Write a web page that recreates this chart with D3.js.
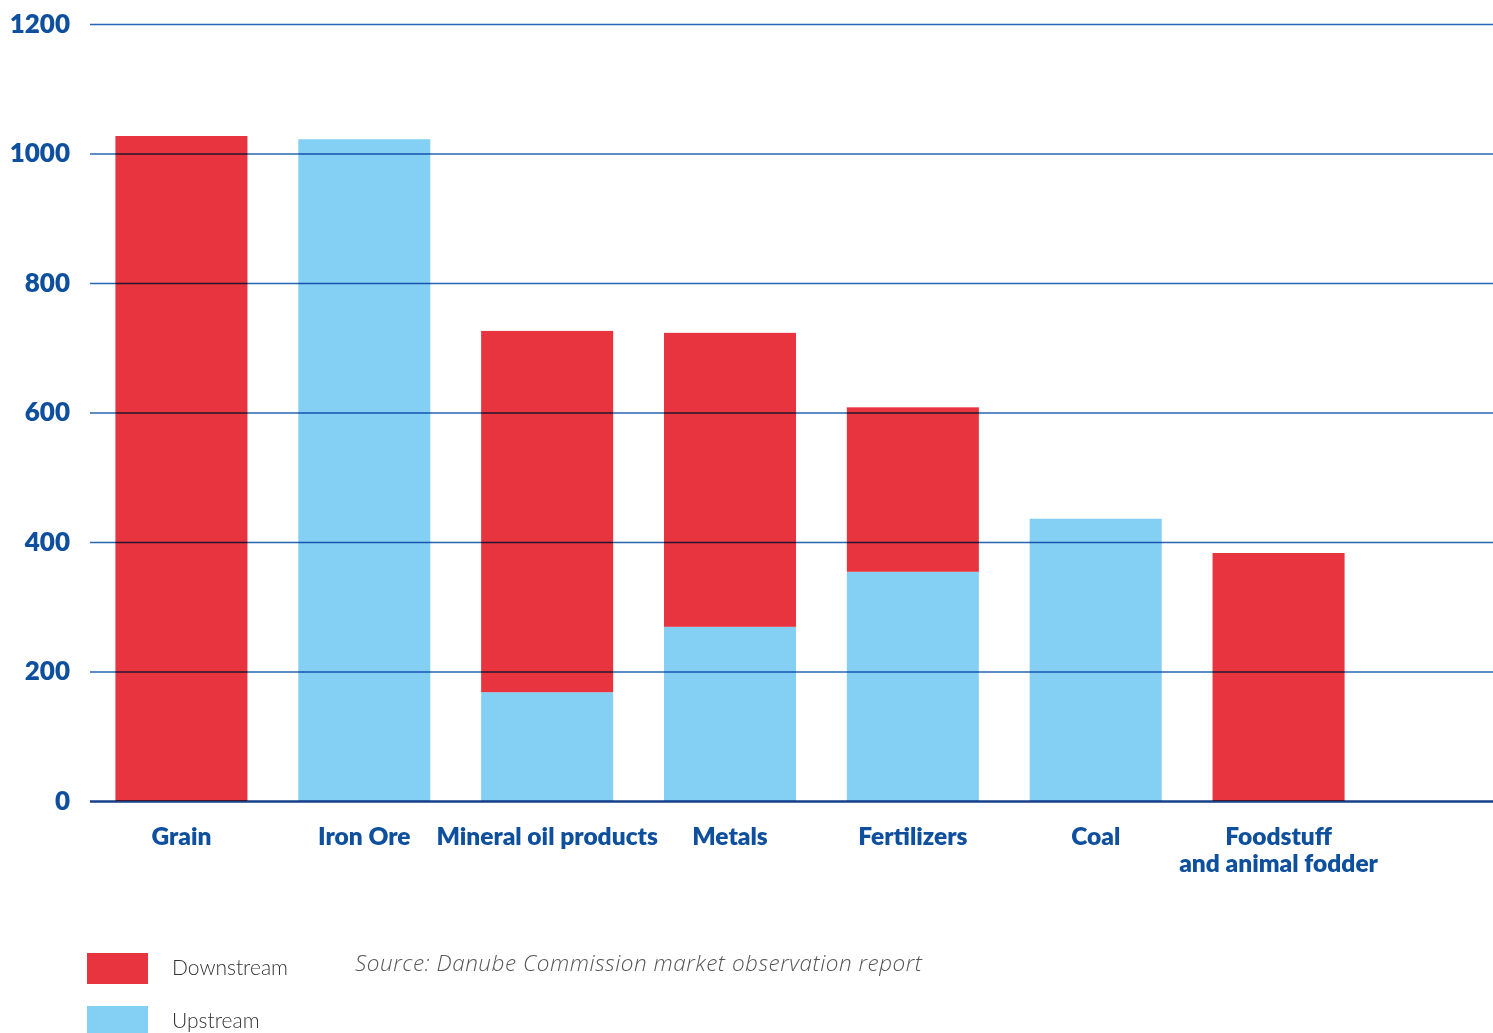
<!DOCTYPE html>
<html>
<head>
<meta charset="utf-8">
<script src="https://cdn.jsdelivr.net/npm/d3@7"></script>
<style>
  html, body { margin: 0; padding: 0; background: #fff; }
  svg { display: block; }
</style>
</head>
<body>
<svg id="chart" width="1493" height="1033"></svg>
<script>
const categories = ["Grain", "Iron Ore", "Mineral oil products", "Metals", "Fertilizers", "Coal", "Foodstuff\nand animal fodder"];
const upstream   = [0, 1022, 168, 269, 354, 436, 0];
const downstream = [1027, 0, 558, 454, 254, 0, 383];
const yTicks = [0, 200, 400, 600, 800, 1000, 1200];
const seriesNames = ["Downstream", "Upstream"];
const colors = { Downstream: "#e8343f", Upstream: "#84d0f5" };
const sourceText = "Source: Danube Commission market observation report";

const svg = d3.select("#chart");
const width = 1493;

const x = d3.scaleBand()
  .domain(categories)
  .range([90, 1370])
  .paddingInner(0.278)
  .paddingOuter(0.139);

const y = d3.scaleLinear().domain([0, 1200]).range([801, 24]);

const data = categories.map((c, i) => ({ cat: c, up: upstream[i], down: downstream[i] }));

// bars
const g = svg.append("g");
g.selectAll("rect.up").data(data).join("rect")
  .attr("class", "up")
  .attr("x", d => x(d.cat))
  .attr("width", x.bandwidth())
  .attr("y", d => y(d.up))
  .attr("height", d => y(0) - y(d.up))
  .attr("fill", colors.Upstream);
g.selectAll("rect.down").data(data).join("rect")
  .attr("class", "down")
  .attr("x", d => x(d.cat))
  .attr("width", x.bandwidth())
  .attr("y", d => y(d.up + d.down))
  .attr("height", d => y(d.up) - y(d.up + d.down))
  .attr("fill", colors.Downstream);

// gridlines via axis
const yAxis = d3.axisLeft(y).tickValues(yTicks).tickFormat(d3.format("d")).tickSize(-(width - 90));
const ax = svg.append("g").attr("transform", "translate(90,0)").call(yAxis);
ax.select(".domain").remove();
ax.selectAll(".tick line")
  .attr("stroke", "#2766b4")
  .attr("stroke-width", 1.5)
  .style("mix-blend-mode", "multiply");
ax.selectAll(".tick").filter(d => d === 0).select("line")
  .attr("stroke", "#173f8a")
  .attr("stroke-width", 2.5);
ax.selectAll(".tick text")
  .attr("x", -20)
  .attr("fill", "#0e4f9e")
  .style("font-family", "Lato, sans-serif")
  .style("font-weight", "800")
  .style("font-size", "26px");

// category labels
const xAxis = d3.axisBottom(x).tickSize(0).tickFormat("");
const xg = svg.append("g").attr("transform", "translate(0,801)").call(xAxis);
xg.select(".domain").remove();
xg.selectAll(".tick").each(function(d) {
  const lines = d.split("\n");
  const t = d3.select(this).append("text")
    .attr("text-anchor", "middle")
    .attr("fill", "#0e4f9e")
    .style("font-family", "Lato, sans-serif")
    .style("font-weight", "800")
    .style("font-size", "24.5px");
  lines.forEach((ln, i) => {
    t.append("tspan").attr("x", 0).attr("y", 44 + i * 27).text(ln);
  });
});

// legend
const leg = svg.append("g");
seriesNames.forEach((s, i) => {
  const yy = 953 + i * 53;
  leg.append("rect").attr("x", 87).attr("y", yy).attr("width", 61).attr("height", 31).attr("fill", colors[s]);
  leg.append("text").attr("x", 172).attr("y", yy + 22)
    .attr("fill", "#333")
    .style("font-family", "Lato, sans-serif")
    .style("font-weight", "300")
    .style("font-size", "21px")
    .text(s);
});

svg.append("text")
  .attr("x", 355).attr("y", 971)
  .attr("fill", "#555")
  .attr("textLength", 567)
  .attr("lengthAdjust", "spacing")
  .style("font-family", "'Open Sans', sans-serif")
  .style("font-weight", "300")
  .style("font-style", "italic")
  .style("font-size", "22.5px")
  .text(sourceText);
</script>
</body>
</html>
